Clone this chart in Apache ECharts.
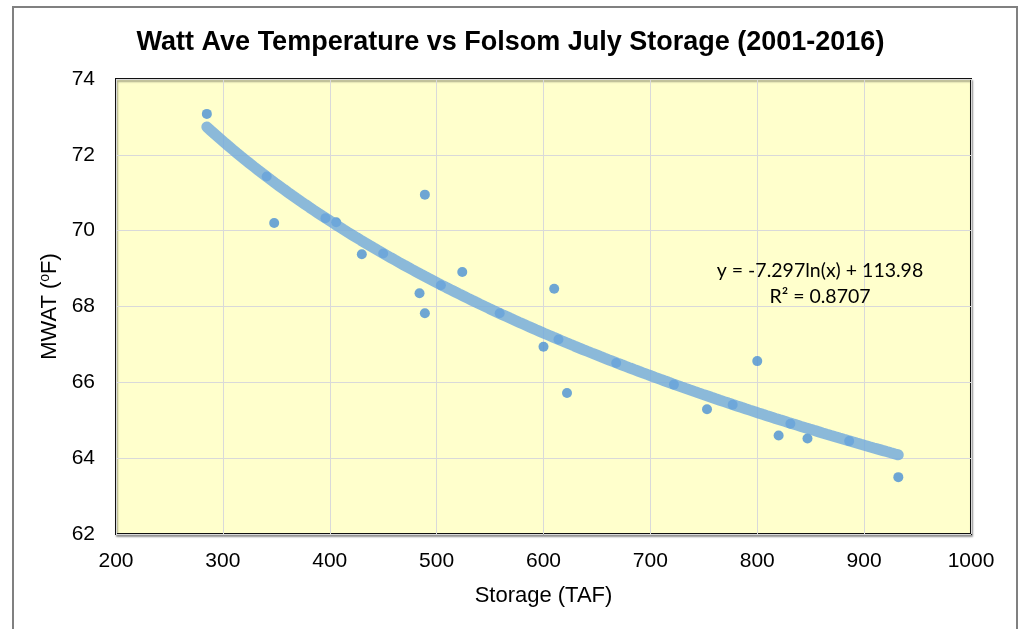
<!DOCTYPE html>
<html>
<head>
<meta charset="utf-8">
<script src="https://cdn.jsdelivr.net/npm/echarts@6/dist/echarts.min.js"></script>
<style>
html,body{margin:0;padding:0;background:#fff;}
#chart{width:1021px;height:629px;}
</style>
</head>
<body>
<div id="chart"></div>
<script>
// ---- data ----
const titleText = 'Watt Ave Temperature vs Folsom July Storage (2001-2016)';
const xAxisName = 'Storage (TAF)';
const storage = [285, 341, 348, 396, 406, 430, 450, 484, 489, 489, 504, 524, 559, 600, 610, 614, 622, 668, 722, 753, 777, 800, 820, 831, 847, 886, 932];
const mwat    = [73.08, 71.43, 70.20, 70.33, 70.22, 69.38, 69.40, 68.35, 70.95, 67.82, 68.56, 68.91, 67.82, 66.94, 68.47, 67.13, 65.72, 66.51, 65.94, 65.29, 65.41, 66.56, 64.60, 64.91, 64.52, 64.45, 63.50];
// trendline coefficients as printed on the chart: y = a*ln(x) + b
const trendA = -7.297;
const trendB = 113.98;
const trendR2 = '0.8707';
const xTicks = [200, 1000, 100];   // min, max, interval
const yTicks = [62, 74, 2];

const points = storage.map((x, i) => [x, mwat[i]]);
const xMin = Math.min(...storage), xMax = Math.max(...storage);
const trend = [];
for (let x = xMin; x <= xMax; x += 4) trend.push([x, trendA * Math.log(x) + trendB]);
trend.push([xMax, trendA * Math.log(xMax) + trendB]);

const font = 'Liberation Sans, Arial, sans-serif';
const chart = echarts.init(document.getElementById('chart'), null, {renderer: 'canvas'});
chart.setOption({
  animation: false,
  backgroundColor: '#ffffff',
  title: {
    text: titleText,
    left: 'center',
    top: 24,
    textStyle: {fontFamily: font, fontWeight: 'bold', fontSize: 27, color: '#000'}
  },
  grid: {
    left: 116, top: 79, right: 50, bottom: 95,
    show: true,
    backgroundColor: '#FFFFCC',
    borderColor: '#111',
    borderWidth: 2,
    shadowColor: 'rgba(0,0,0,0.35)',
    shadowBlur: 2,
    shadowOffsetX: 1,
    shadowOffsetY: 2
  },
  xAxis: {
    type: 'value',
    min: xTicks[0], max: xTicks[1], interval: xTicks[2],
    name: xAxisName,
    nameLocation: 'middle',
    nameGap: 51,
    nameTextStyle: {fontFamily: font, fontSize: 22, color: '#000'},
    axisLine: {show: false},
    axisTick: {show: false},
    axisLabel: {fontFamily: font, fontSize: 21, color: '#000', margin: 17, formatter: v => String(v)},
    splitLine: {show: true, lineStyle: {color: '#D9D9D9', width: 1}}
  },
  yAxis: {
    type: 'value',
    min: yTicks[0], max: yTicks[1], interval: yTicks[2],
    name: '{a|MWAT (}{s|o}{a|F)}',
    nameLocation: 'middle',
    nameGap: 50,
    nameTextStyle: {
      fontFamily: font, fontSize: 22, color: '#000',
      rich: {
        a: {fontFamily: font, fontSize: 22, color: '#000'},
        s: {fontFamily: font, fontSize: 14, color: '#000', verticalAlign: 'top', padding: [0, 0, 9, 0]}
      }
    },
    axisLine: {show: false},
    axisTick: {show: false},
    axisLabel: {fontFamily: font, fontSize: 21, color: '#000', margin: 21, formatter: v => String(v)},
    splitLine: {show: true, lineStyle: {color: '#D9D9D9', width: 1}}
  },
  series: [
    {
      type: 'scatter',
      data: points,
      symbol: 'circle',
      symbolSize: 10,
      itemStyle: {color: '#4A90D4'},
      z: 2
    },
    {
      type: 'line',
      data: trend,
      showSymbol: false,
      smooth: false,
      lineStyle: {width: 11, color: 'rgb(110,168,220)', opacity: 0.8, cap: 'round'},
      z: 3
    }
  ],
  graphic: [
    {
      type: 'rect',
      shape: {x: 13, y: 7, width: 1004, height: 640},
      style: {fill: 'none', stroke: '#808080', lineWidth: 2},
      silent: true
    },
    {
      type: 'text',
      style: {
        text: 'y = ' + trendA + 'ln(x) + ' + trendB + '\nR² = ' + trendR2,
        x: 820, y: 284,
        align: 'center', verticalAlign: 'middle',
        textAlign: 'center', textVerticalAlign: 'middle',
        fontFamily: 'Lato, Open Sans, sans-serif', fontSize: 19.5, lineHeight: 26,
        fill: '#000'
      },
      z: 10
    }
  ]
});
</script>
</body>
</html>
